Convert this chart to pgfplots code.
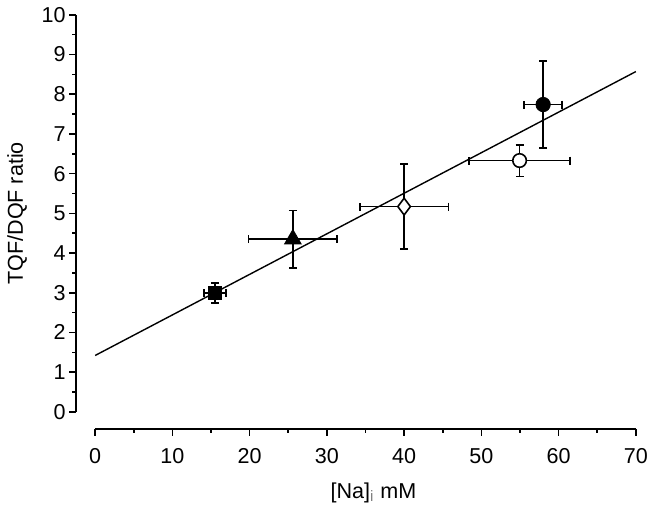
\documentclass[border=0pt]{standalone}
\usepackage{pgfplots}
\pgfplotsset{compat=1.18}
\usepackage{fontspec}
\setmainfont{Liberation Sans}
\begin{document}
\fontsize{10.8}{13}\selectfont
\begin{tikzpicture}
\pgfplotsset{ebar/.style={error bars/.cd, x dir=both, x explicit, y dir=both, y explicit,
  error bar style={line width=0.9pt},
  error mark options={rotate=90, mark size=2pt, line width=0.9pt}}}
\begin{axis}[
  scale only axis,
  width=271pt, height=199pt,
  xmin=0, xmax=70, ymin=0, ymax=10,
  axis x line*=bottom, axis y line*=left,
  axis line style={-, line width=0.8pt},
  axis x line shift=8.5pt,
  axis y line shift=9.5pt,
  xtick={0,10,...,70}, ytick={0,1,...,10},
  minor x tick num=1, minor y tick num=1,
  tick align=outside,
  major tick length=3.5pt, minor tick length=2pt,
  tick style={line width=0.8pt, black},
  /pgf/number format/assume math mode=true,
  ticklabel style={font=\fontsize{10.8}{13}\selectfont},
  yticklabel style={xshift=2pt},
  xticklabel style={yshift=-2.5pt},
  xlabel={[Na]\textsubscript{\color{gray}i} mM},
  xlabel style={yshift=-2pt, xshift=4pt},
  ylabel={TQF/DQF ratio},
  label style={font=\fontsize{10.8}{13}\selectfont},
  clip=false,
]
\addplot[black, line width=0.7pt, no marks] coordinates {(0,1.42) (70,8.57)};
\addplot[black, only marks, mark=square*, mark size=3.2pt, ebar]
  coordinates {(15.5,3.0) +- (1.4,0.25)};
\addplot[black, only marks, mark=triangle*, mark size=4.8pt, ebar]
  coordinates {(25.6,4.35) +- (5.75,0.72)};
\addplot[black, only marks, mark=diamond*, mark size=4.2pt,
  mark options={fill=white, line width=0.8pt}, ebar]
  coordinates {(40.0,5.17) +- (5.75,1.07)};
\addplot[black, only marks, mark=*, mark size=3.6pt, ebar]
  coordinates {(58.0,7.74) +- (2.45,1.1)};
\addplot[black, only marks, mark=*, mark size=3.4pt,
  mark options={fill=white, line width=0.8pt}, ebar]
  coordinates {(54.95,6.33) +- (6.5,0.4)};
\end{axis}
\end{tikzpicture}
\end{document}
